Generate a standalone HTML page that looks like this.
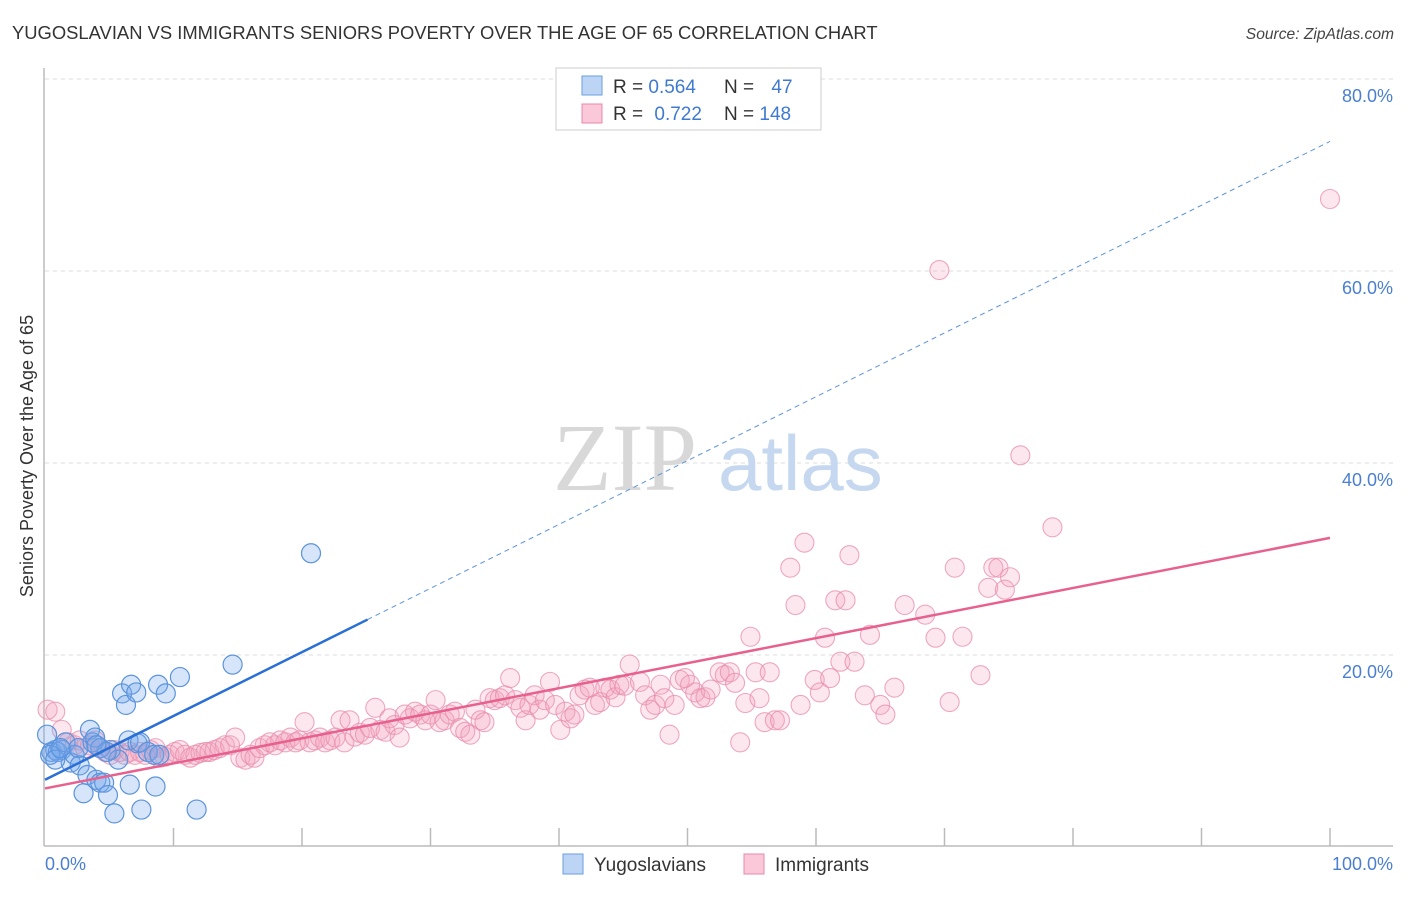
<!DOCTYPE html>
<html><head><meta charset="utf-8"><style>
body{margin:0;background:#fff;font-family:"Liberation Sans",sans-serif;}
svg text{font-family:"Liberation Sans",sans-serif;}
</style></head><body>
<svg id="chart" width="1406" height="892" xmlns="http://www.w3.org/2000/svg">
<text x="12" y="39" font-size="18.4" fill="#333">YUGOSLAVIAN VS IMMIGRANTS SENIORS POVERTY OVER THE AGE OF 65 CORRELATION CHART</text>
<text x="1394" y="39" font-size="15.6" fill="#444" font-style="italic" text-anchor="end">Source: ZipAtlas.com</text>
<g id="grid"></g>
<text x="553" y="490" font-size="96" fill="#d8d8d8" style="font-family:'Liberation Serif',serif">ZIP</text>
<text x="718" y="490" font-size="78" fill="#c5d8f0">atlas</text>
<line x1="44" y1="68" x2="44" y2="846" stroke="#bbb" stroke-width="1.5"/>
<line x1="44" y1="846" x2="1393" y2="846" stroke="#bbb" stroke-width="1.5"/>
<g id="ticks"></g>
<g id="pts"></g>
<g id="trend"></g>
<text transform="translate(33,456) rotate(-90)" font-size="18" fill="#333" text-anchor="middle">Seniors Poverty Over the Age of 65</text>
<text x="45" y="870" font-size="18" fill="#4a7fd0">0.0%</text>
<text x="1393" y="870" font-size="18" fill="#4a7fd0" text-anchor="end">100.0%</text>
<g>
<rect x="556" y="68" width="265" height="62" fill="#fff" stroke="#ccc"/>
<rect x="582" y="76" width="20" height="19" fill="#bcd5f5" stroke="#6a9ee0"/>
<rect x="582" y="104" width="20" height="19" fill="#fac8d8" stroke="#e88aa8"/>
<text x="613" y="93" font-size="19" fill="#333">R = <tspan fill="#3f7ad0">0.564</tspan></text>
<text x="724" y="93" font-size="19" fill="#333">N = <tspan fill="#3f7ad0" dx="12">47</tspan></text>
<text x="613" y="120" font-size="19" fill="#333">R = <tspan fill="#3f7ad0" dx="6">0.722</tspan></text>
<text x="724" y="120" font-size="19" fill="#333">N = <tspan fill="#3f7ad0">148</tspan></text>
</g>
<g>
<rect x="563" y="854" width="20" height="20" fill="#bcd5f5" stroke="#6a9ee0"/>
<text x="594" y="871" font-size="19" fill="#333">Yugoslavians</text></g>
<g>
<rect x="744" y="854" width="20" height="20" fill="#fac8d8" stroke="#e88aa8"/>
<text x="775" y="871" font-size="19" fill="#333">Immigrants</text></g>
</svg>
<script>
const yTicks=[20,40,60,80];
const blueX=[0.16,0.5,0.8,1.0,1.3,1.6,2.0,2.3,2.6,2.7,3.0,3.3,3.5,3.7,3.9,4.0,4.3,4.6,4.9,5.1,5.4,5.7,6.0,6.3,6.5,6.7,7.1,7.2,7.4,7.5,8.0,8.5,8.6,8.8,8.9,9.4,10.5,11.8,14.6,20.7,0.4,0.8,1.2,4.3,4.8,4.0,6.6];
const blueY=[11.7,9.9,10.1,9.9,10.1,10.9,8.8,9.6,10.3,8.5,5.6,7.5,12.2,10.9,11.4,7.0,6.7,6.7,5.4,10.1,3.5,9.1,16.0,14.8,11.1,16.9,16.1,10.8,10.9,3.9,9.9,9.6,6.3,16.9,9.6,16.0,17.7,3.9,19.0,30.6,9.6,9.1,10.3,10.3,9.9,10.6,6.5];
const pinkX=[0.2,0.8,1.3,1.8,2.3,2.7,3.1,3.5,3.9,4.3,4.7,5.1,5.4,5.8,6.2,6.6,7.0,7.4,7.8,8.2,8.6,8.9,9.3,9.7,10.1,10.5,10.9,11.3,11.7,12.1,12.5,12.8,13.2,13.6,14.0,14.4,14.8,15.2,15.6,16.0,16.3,16.7,17.1,17.5,17.9,18.3,18.7,19.1,19.5,19.8,20.2,20.6,21.0,21.4,21.8,22.2,22.6,23.0,23.3,23.7,24.1,24.5,24.9,25.3,25.7,26.1,26.5,26.8,27.2,27.6,28.0,28.4,28.8,29.2,29.6,30.0,30.4,30.7,31.1,31.5,31.9,32.3,32.7,33.1,33.5,33.9,34.2,34.6,35.0,35.4,35.8,36.2,36.6,37.0,37.4,37.7,38.1,38.5,38.9,39.3,39.7,40.1,40.5,40.9,41.2,41.6,42.0,42.4,42.8,43.2,43.6,44.0,44.4,44.7,45.1,45.5,46.3,46.7,47.1,47.5,47.9,48.2,48.6,49.0,49.4,49.8,50.2,50.6,51.0,51.4,51.8,52.5,52.9,53.3,53.7,54.1,54.5,54.9,55.3,55.6,56.0,56.4,56.8,57.2,58.0,58.4,58.8,59.1,59.9,60.3,60.7,61.1,61.5,61.9,62.3,62.6,63.0,63.8,64.2,65.0,65.4,66.1,66.9,68.5,69.3,69.6,70.4,70.8,71.4,72.8,73.4,73.8,74.2,74.7,75.1,75.9,78.4,100.0];
const pinkY=[14.3,14.1,12.2,10.9,10.6,11.1,10.3,10.6,11.1,10.3,9.9,9.6,10.1,9.9,9.6,9.9,9.6,9.9,9.6,10.1,10.3,9.3,9.4,9.6,9.9,10.1,9.6,9.3,9.6,9.8,9.9,9.9,10.1,10.3,10.6,10.6,11.4,9.3,9.1,9.6,9.3,10.3,10.6,10.9,10.6,11.1,10.9,11.4,10.9,11.1,13.0,10.9,11.1,11.4,10.9,11.1,11.4,13.2,10.9,13.2,11.5,11.9,11.7,12.4,14.5,12.2,12.0,13.4,12.7,11.4,13.8,13.4,14.1,13.8,13.2,13.8,15.3,13.0,13.2,13.8,14.1,12.4,12.0,11.7,14.3,13.2,13.0,15.5,15.3,15.5,15.8,17.6,15.3,14.5,13.2,14.8,15.8,14.3,15.3,17.2,14.8,12.2,14.1,13.4,13.8,15.8,16.4,16.6,14.8,15.1,16.6,16.4,15.6,16.9,16.8,19.0,17.2,15.8,14.3,14.8,16.9,15.5,11.7,14.8,17.4,17.6,16.9,16.1,15.5,15.6,16.4,18.2,17.9,18.2,17.1,10.9,15.0,21.9,18.2,15.5,13.0,18.2,13.2,13.2,29.1,25.2,14.8,31.7,17.4,16.1,21.8,17.6,25.7,19.3,25.7,30.4,19.3,15.8,22.1,14.8,13.8,16.6,25.2,24.2,21.8,60.1,15.1,29.1,21.9,17.9,27.0,29.1,29.1,26.8,28.1,40.8,33.3,67.5];
const blueFit=[7.0,0.665];
const pinkFit=[6.1,0.261];
const NS='http://www.w3.org/2000/svg';
const xs=v=>45+v*12.85, ys=v=>847-v*9.6;
function mk(tag,attrs,parent){const e=document.createElementNS(NS,tag);for(const k in attrs)e.setAttribute(k,attrs[k]);parent.appendChild(e);return e;}
const grid=document.getElementById('grid');
yTicks.forEach(t=>{
  const l=mk('line',{x1:45,x2:1393,y1:ys(t),y2:ys(t),stroke:'#ddd','stroke-dasharray':'4,4'},grid);
  
  
  const tx=mk('text',{x:1393,y:ys(t)+23,'font-size':18,fill:'#4a7fd0','text-anchor':'end'},grid);
  tx.textContent=t.toFixed(1)+'%';
  
  
});
const tk=document.getElementById('ticks');
for(let i=1;i<=10;i++){const t=mk('line',{x1:xs(i*10),x2:xs(i*10),y1:828,y2:846,stroke:'#bbb','stroke-width':1.5},tk);

}
const pts=document.getElementById('pts');
pinkX.forEach((x,i)=>{const c=mk('circle',{cx:xs(x),cy:ys(pinkY[i]),r:9.5,fill:'rgba(244,160,188,0.25)',stroke:'rgba(232,140,172,0.75)','stroke-width':1.1},pts);

});
blueX.forEach((x,i)=>{const c=mk('circle',{cx:xs(x),cy:ys(blueY[i]),r:9.5,fill:'rgba(120,170,235,0.3)',stroke:'#5b93dd','stroke-width':1.2},pts);

});
const tr=document.getElementById('trend');
const f=(p,x)=>p[0]+p[1]*x;
let l=mk('line',{x1:xs(25.1),y1:ys(f(blueFit,25.1)),x2:xs(100),y2:ys(f(blueFit,100)),stroke:'#5b93dd','stroke-width':1,'stroke-dasharray':'5,4'},tr);


l=mk('line',{x1:xs(0),y1:ys(f(blueFit,0)),x2:xs(25.1),y2:ys(f(blueFit,25.1)),stroke:'#2a6fd6','stroke-width':2.5},tr);


l=mk('line',{x1:xs(0),y1:ys(f(pinkFit,0)),x2:xs(100),y2:ys(f(pinkFit,100)),stroke:'#e8608e','stroke-width':2.5},tr);


</script>
</body></html>
